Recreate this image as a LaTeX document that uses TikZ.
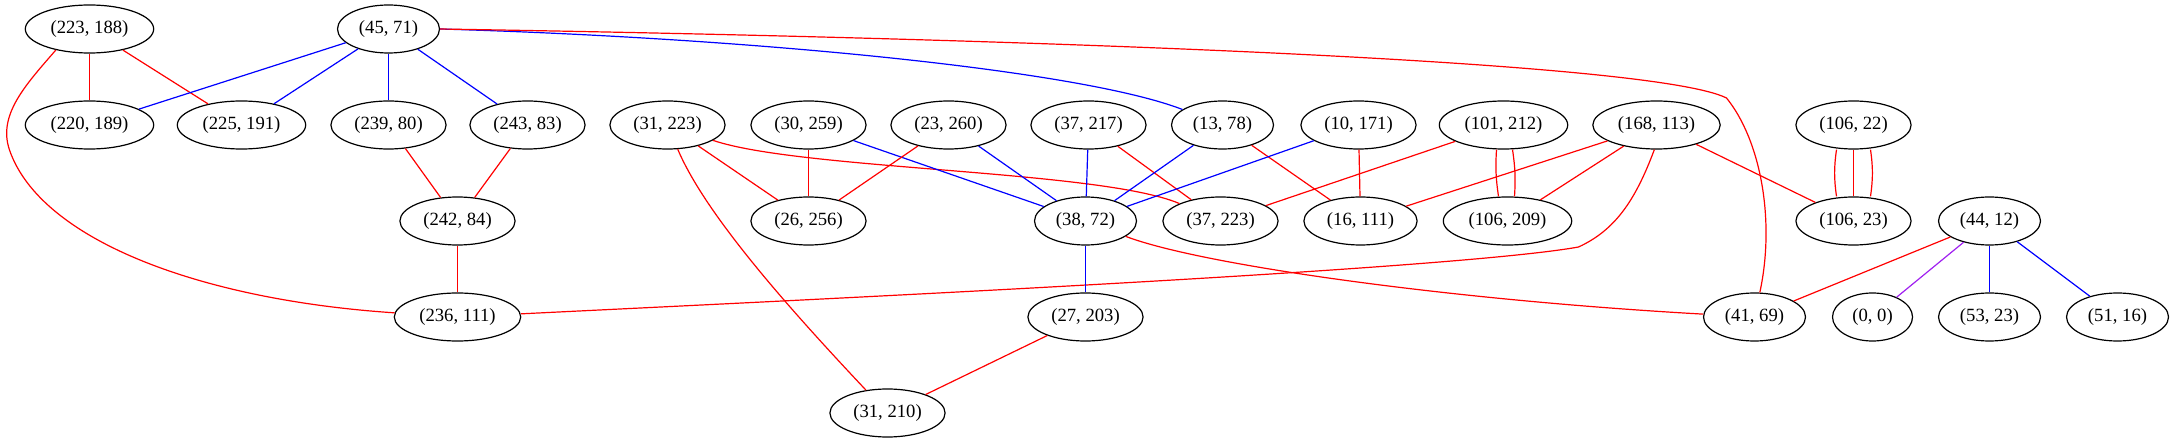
\documentclass[tikz,border=0pt]{standalone}
\usepackage{fontspec}
\setmainfont{Liberation Serif}
\usetikzlibrary{shapes.geometric}
\definecolor{gvpurple}{RGB}{160,32,240}
\tikzset{
	cell/.style={draw,ellipse,line width=1.2pt,inner xsep=6.5pt,inner ysep=2pt,minimum height=48pt,minimum width=80pt,font=\fontsize{18.67pt}{22pt}\selectfont},
	redge/.style={draw=red,line width=1.2pt},
	bedge/.style={draw=blue,line width=1.2pt},
	pedge/.style={draw=gvpurple,line width=1.2pt}
}
\begin{document}
\begin{tikzpicture}[x=1pt,y=-1pt]
	\useasboundingbox (-0.5,0) rectangle (2174.5,443);
	\node[cell] (n223x188) at (89,29) {(223, 188)};
	\node[cell] (n45x71) at (388,29) {(45, 71)};
	\node[cell] (n220x189) at (89,125) {(220, 189)};
	\node[cell] (n225x191) at (241,125) {(225, 191)};
	\node[cell] (n239x80) at (388,125) {(239, 80)};
	\node[cell] (n243x83) at (527,125) {(243, 83)};
	\node[cell] (n31x223) at (667,125) {(31, 223)};
	\node[cell] (n30x259) at (808,125) {(30, 259)};
	\node[cell] (n23x260) at (948,125) {(23, 260)};
	\node[cell] (n37x217) at (1088,125) {(37, 217)};
	\node[cell] (n13x78) at (1222,125) {(13, 78)};
	\node[cell] (n10x171) at (1358,125) {(10, 171)};
	\node[cell] (n101x212) at (1503,125) {(101, 212)};
	\node[cell] (n168x113) at (1656,125) {(168, 113)};
	\node[cell] (n106x22) at (1853,125) {(106, 22)};
	\node[cell] (n242x84) at (457,221) {(242, 84)};
	\node[cell] (n26x256) at (808,221) {(26, 256)};
	\node[cell] (n38x72) at (1085,221) {(38, 72)};
	\node[cell] (n37x223) at (1220,221) {(37, 223)};
	\node[cell] (n16x111) at (1360,221) {(16, 111)};
	\node[cell] (n106x209) at (1507,221) {(106, 209)};
	\node[cell] (n106x23) at (1853,221) {(106, 23)};
	\node[cell] (n44x12) at (1989,221) {(44, 12)};
	\node[cell] (n236x111) at (457,317) {(236, 111)};
	\node[cell] (n27x203) at (1085,317) {(27, 203)};
	\node[cell] (n41x69) at (1754,317) {(41, 69)};
	\node[cell] (n0x0) at (1872,317) {(0, 0)};
	\node[cell] (n53x23) at (1989,317) {(53, 23)};
	\node[cell] (n51x16) at (2117,317) {(51, 16)};
	\node[cell] (n31x210) at (887,413) {(31, 210)};

	\draw[redge] (n223x188) -- (n220x189);
	\draw[redge] (n223x188) -- (n225x191);
	\draw[redge] (n223x188.212) .. controls (25,85) and (-3,115) .. (9,150)
		.. controls (40,240) and (200,300) .. (n236x111);
	\draw[bedge] (n45x71) -- (n220x189);
	\draw[bedge] (n45x71) -- (n225x191);
	\draw[bedge] (n45x71) -- (n239x80);
	\draw[bedge] (n45x71) -- (n243x83);
	\draw[bedge] (n45x71.east) .. controls (750,38) and (1080,70) .. (n13x78);
	\draw[redge] (n45x71.east) .. controls (1000,38) and (1650,60) .. (1726,98)
		.. controls (1760,140) and (1775,220) .. (n41x69);
	\draw[redge] (n239x80) -- (n242x84);
	\draw[redge] (n243x83) -- (n242x84);
	\draw[redge] (n242x84) -- (n236x111);
	\draw[redge] (n31x223) -- (n26x256);
	\draw[redge] (n31x223) .. controls (800,170) and (1100,170) .. (n37x223);
	\draw[redge] (n31x223) .. controls (705,215) and (790,310) .. (n31x210);
	\draw[redge] (n30x259) -- (n26x256);
	\draw[bedge] (n30x259) -- (n38x72);
	\draw[redge] (n23x260) -- (n26x256);
	\draw[bedge] (n23x260) -- (n38x72);
	\draw[bedge] (n37x217) -- (n38x72);
	\draw[redge] (n37x217) -- (n37x223);
	\draw[bedge] (n13x78) -- (n38x72);
	\draw[redge] (n13x78) -- (n16x111);
	\draw[bedge] (n10x171) -- (n38x72);
	\draw[redge] (n10x171) -- (n16x111);
	\draw[redge] (n101x212) -- (n37x223);
	\draw[redge] ([xshift=-7pt]n101x212.south) to[bend right=6] ([xshift=-9pt]n106x209.north);
	\draw[redge] ([xshift=9pt]n101x212.south) to[bend left=6] ([xshift=7pt]n106x209.north);
	\draw[redge] (n168x113) -- (n16x111);
	\draw[redge] (n168x113) -- (n106x209);
	\draw[redge] (n168x113) -- (n106x23);
	\draw[redge] (n168x113.265) .. controls (1635,200) and (1615,230) .. (1578,247)
		.. controls (1450,270) and (800,300) .. (n236x111);
	\draw[redge] ([xshift=-17pt]n106x22.south) to[bend right=8] ([xshift=-17pt]n106x23.north);
	\draw[redge] (n106x22) -- (n106x23);
	\draw[redge] ([xshift=17pt]n106x22.south) to[bend left=8] ([xshift=17pt]n106x23.north);
	\draw[bedge] (n38x72) -- (n27x203);
	\draw[redge] (n38x72) .. controls (1200,265) and (1450,300) .. (n41x69);
	\draw[redge] (n27x203) -- (n31x210);
	\draw[redge] (n44x12) -- (n41x69);
	\draw[pedge] (n44x12) -- (n0x0);
	\draw[bedge] (n44x12) -- (n53x23);
	\draw[bedge] (n44x12) -- (n51x16);
\end{tikzpicture}
\end{document}
